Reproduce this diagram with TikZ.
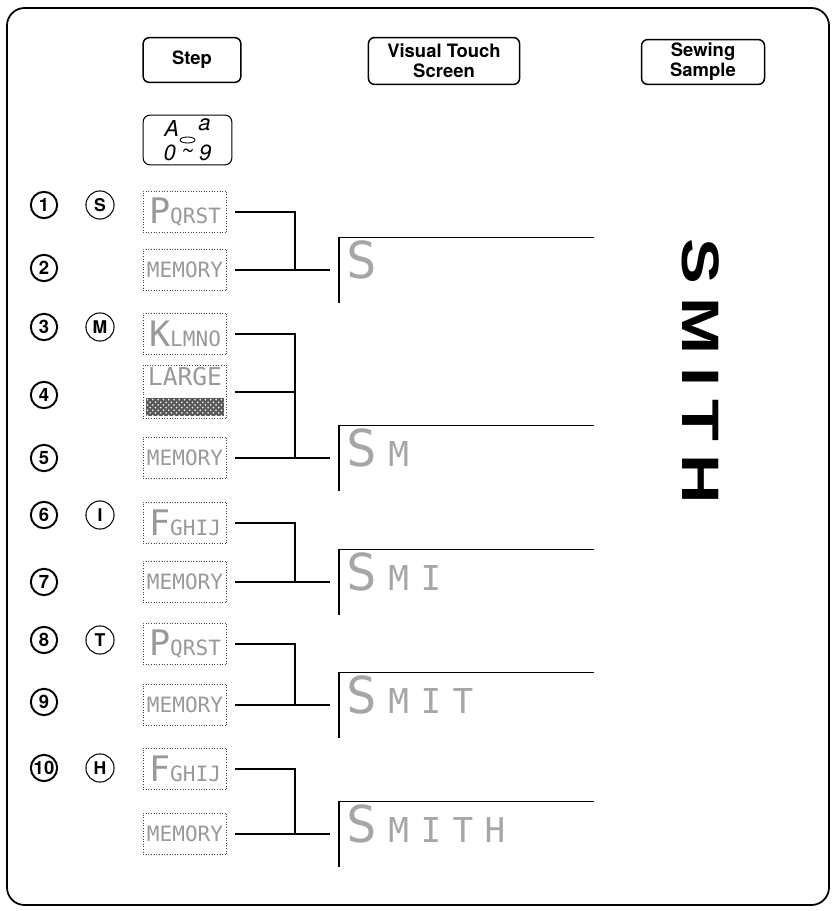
\documentclass[tikz,border=0pt]{standalone}
\usepackage{fontspec}
\usetikzlibrary{patterns}

\newfontfamily\headfont{TeX Gyre Heros}
\newfontfamily\lcdfont{DejaVu Sans Mono}
\newfontfamily\samplefont[LetterSpace=19]{Liberation Sans}

\tikzset{
  header/.style={draw, line width=0.85pt, rounded corners=3.5pt, inner sep=0pt,
    align=center, font=\headfont\bfseries\fontsize{10.5}{11.3}\selectfont},
  numcirc/.style={draw, circle, line width=1.1pt, minimum size=15pt, inner sep=0pt,
    font=\headfont\bfseries\fontsize{10.5}{11}\selectfont},
  letcirc/.style={draw, circle, line width=0.6pt, minimum size=16pt, inner sep=0pt,
    font=\headfont\bfseries\fontsize{10}{11}\selectfont},
  lcd/.style={draw=black!75, densely dotted, line width=0.5pt, minimum width=47.6pt,
    minimum height=23.8pt, inner sep=1pt, text=black!40,
    font=\lcdfont\fontsize{12}{12}\selectfont},
  screen/.style={anchor=west, minimum width=145pt, minimum height=36pt,
    text width=137pt, align=left, inner xsep=4pt, text height=20pt, text depth=10pt,
    text=black!35, font=\lcdfont\fontsize{19.5}{20}\selectfont},
  wire/.style={line width=1pt},
}

\begin{document}
\begin{tikzpicture}[x=0.02cm, y=-0.02cm]

    % パラメータの定義
    \pgfmathsetmacro{\bx}{185}   % 表示枠の中心
    \pgfmathsetmacro{\jx}{295}   % 分岐線
    \pgfmathsetmacro{\sx}{339}   % 画面の左端

    \useasboundingbox (0,0) rectangle (832,911);

    % 外枠
    \draw [line width=1pt, rounded corners=10pt] (7,8) rectangle (829,905);

    % 見出し
    \node (step) [header, minimum width=55.6pt, minimum height=25.5pt] at (192,60) {Step};
    \node (touch) [header, minimum width=86pt, minimum height=26.7pt] at (444,61) {Visual Touch\\Screen};
    \node (sample) [header, minimum width=70pt, minimum height=25.5pt] at (703,62) {Sewing\\Sample};

    % 文字モード
    \node (mode) [draw, line width=0.6pt, rounded corners=4pt, minimum width=50.5pt,
        minimum height=28.4pt, inner sep=1pt, align=center,
        font=\headfont\itshape\fontsize{12.5}{13.6}\selectfont] at (187.5,140)
        {A\kern11pt\raisebox{3.4pt}{a}\\0\kern3pt\raisebox{1.5pt}{\textasciitilde}\kern3pt9};
    \draw [line width=0.5pt] (mode.center) ellipse [x radius=7.5, y radius=3];

    % 番号と文字
    \foreach \n/\y in {1/205,2/268,3/327,4/395,5/458,6/515,7/582,8/640,9/702,10/768}
        \node (n\n) [numcirc] at (44,\y) {\n};
    \foreach \c/\y in {S/205,M/327,I/515,T/640,H/768}
        \node (c\c) [letcirc] at (100,\y) {\c};

    % 表示枠
    \node (b1) [lcd] at (\bx,212) {{\fontsize{20}{20}\selectfont P}QRST};
    \node (b2) [lcd] at (\bx,270) {MEMORY};
    \node (b3) [lcd] at (\bx,334) {{\fontsize{20}{20}\selectfont K}LMNO};
    \node (b4) [lcd, minimum height=30.6pt] at (\bx,392) {};
    \node (b4t) [anchor=north, inner sep=1.5pt, text=black!40,
        font=\lcdfont\fontsize{14}{14}\selectfont] at (b4.north) {LARGE};
    \fill [black!65] ([xshift=2pt,yshift=2pt]b4.south west) rectangle ([xshift=-2pt,yshift=12pt]b4.south east);
    \fill [pattern=crosshatch dots, pattern color=white]
        ([xshift=2pt,yshift=2pt]b4.south west) rectangle ([xshift=-2pt,yshift=12pt]b4.south east);
    \node (b5) [lcd] at (\bx,458) {MEMORY};
    \node (b6) [lcd] at (\bx,523) {{\fontsize{20}{20}\selectfont F}GHIJ};
    \node (b7) [lcd] at (\bx,582) {MEMORY};
    \node (b8) [lcd] at (\bx,644) {{\fontsize{20}{20}\selectfont P}QRST};
    \node (b9) [lcd] at (\bx,705) {MEMORY};
    \node (b10) [lcd] at (\bx,769) {{\fontsize{20}{20}\selectfont F}GHIJ};
    \node (b11) [lcd] at (\bx,834) {MEMORY};

    % 分岐点
    \coordinate (j1) at (\jx,270);
    \coordinate (j2) at (\jx,458);
    \coordinate (j3) at (\jx,582);
    \coordinate (j4) at (\jx,705);
    \coordinate (j5) at (\jx,834);

    % 画面
    \node (s1) [screen] at (\sx,270) {{\fontsize{29}{29}\selectfont S}};
    \node (s2) [screen] at (\sx,458) {{\fontsize{29}{29}\selectfont S} M};
    \node (s3) [screen] at (\sx,582) {{\fontsize{29}{29}\selectfont S} M I};
    \node (s4) [screen] at (\sx,705) {{\fontsize{29}{29}\selectfont S} M I T};
    \node (s5) [screen] at (\sx,834) {{\fontsize{29}{29}\selectfont S} M I T H};

    % 線分の描画
    \foreach \a/\b/\j/\s in {b1/b2/j1/s1, b3/b5/j2/s2, b6/b7/j3/s3, b8/b9/j4/s4, b10/b11/j5/s5} {
        \draw [wire] ([xshift=4.5pt]\a.east) -| (\j);
        \draw [wire] ([xshift=4.5pt]\b.east) -- ([xshift=-5pt]\s.west);
        \draw [wire] (\s.north east) -- (\s.north west) -- (\s.south west);
    }
    \draw [wire] ([xshift=4.5pt]b4.east) -- (j2 |- b4.east);

    % 縫い見本
    \node (smith) [rotate=-90, xscale=1.3, transform shape, anchor=base west, inner sep=0pt,
        font=\samplefont\bfseries\fontsize{30}{30}\selectfont] at (682,238) {SMITH};

\end{tikzpicture}
\end{document}
